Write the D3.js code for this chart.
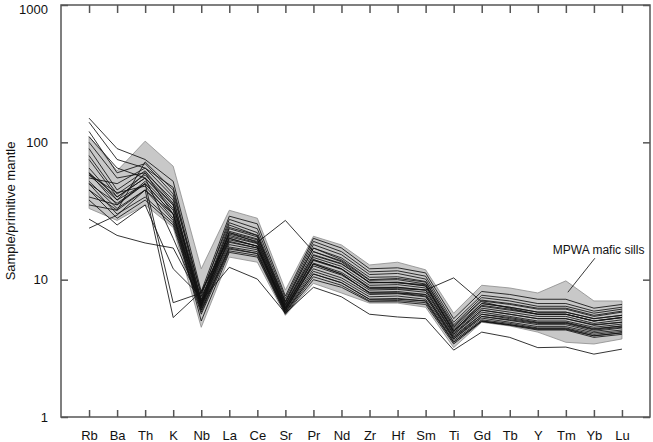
<!DOCTYPE html>
<html>
<head>
<meta charset="utf-8">
<script src="https://cdn.jsdelivr.net/npm/d3@7/dist/d3.min.js"></script>
<style>
  body { margin: 0; background: #fff; }
  svg { display: block; font-family: "Liberation Sans", Arial, sans-serif; }
</style>
</head>
<body>
<script>
// elements in spider-diagram order
var elements = ["Rb","Ba","Th","K","Nb","La","Ce","Sr","Pr","Nd","Zr","Hf","Sm","Ti","Gd","Tb","Y","Tm","Yb","Lu"];

// y ticks
var yTicks = [1, 10, 100, 1000];

// MPWA mafic sills envelope (upper / lower)
var envUpper = [110, 62, 102, 67, 12, 32, 28, 8.4, 20.7, 17.9, 12.8, 13.4, 11.8, 5.7, 9.1, 8.7, 8.0, 9.8, 7.0, 7.0];
var envLower = [33, 27, 35, 24, 4.5, 14.6, 13.4, 5.5, 9.4, 8.0, 6.75, 6.75, 6.3, 3.2, 4.9, 4.6, 4.15, 3.5, 3.4, 3.7];

// individual samples, normalised to primitive mantle
var samples = [
  [150, 90, 75, 52, 8.2, 29, 25.5, 7.6, 20, 17, 12, 12.2, 11.2, 5.2, 8.2, 7.8, 7.2, 7.2, 6.2, 6.6],
  [140, 75, 65, 47, 7.6, 27.5, 23.5, 7.3, 19, 16, 11.4, 11.6, 10.6, 4.9, 7.7, 7.3, 6.7, 6.7, 5.9, 6.3],
  [120, 60, 70, 42, 7.9, 26, 22, 7.0, 18, 15.2, 10.9, 11.1, 10.1, 4.7, 7.4, 7.0, 6.4, 6.4, 5.7, 6.1],
  [100, 55, 60, 38, 7.2, 25, 21, 6.8, 17, 14.4, 10.4, 10.5, 9.7, 4.5, 7.0, 6.6, 6.1, 6.1, 5.4, 5.8],
  [90, 45, 62, 36, 7.0, 23.5, 20.5, 6.6, 16, 13.7, 9.9, 10, 9.3, 4.4, 6.7, 6.3, 5.8, 5.8, 5.2, 5.5],
  [80, 42, 58, 35, 6.8, 22.5, 19.8, 6.5, 15.2, 13.1, 9.5, 9.6, 9.0, 4.3, 6.4, 6.0, 5.6, 5.6, 5.0, 5.3],
  [75, 40, 55, 33, 6.6, 21.5, 19, 6.4, 14.5, 12.5, 9.1, 9.2, 8.7, 4.2, 6.2, 5.8, 5.4, 5.4, 4.8, 5.1],
  [65, 38, 60, 30, 6.5, 20.5, 18.3, 6.3, 13.8, 11.9, 8.7, 8.8, 8.4, 4.1, 6.0, 5.6, 5.2, 5.2, 4.65, 4.9],
  [60, 35, 52, 32, 6.4, 19.5, 17.6, 6.2, 13.2, 11.3, 8.4, 8.5, 8.1, 4.0, 5.8, 5.4, 5.0, 5.0, 4.5, 4.75],
  [58, 43, 48, 28, 6.3, 18.7, 17, 6.1, 12.6, 10.8, 8.1, 8.2, 7.8, 3.9, 5.6, 5.2, 4.85, 4.85, 4.35, 4.6],
  [55, 50, 65, 40, 6.2, 18, 16.5, 6.0, 12, 10.3, 7.8, 7.9, 7.5, 3.8, 5.4, 5.05, 4.7, 4.7, 4.2, 4.45],
  [52, 33, 45, 27, 6.0, 17.3, 16, 5.9, 11.5, 9.9, 7.5, 7.6, 7.2, 3.7, 5.25, 4.9, 4.55, 4.55, 4.1, 4.3],
  [50, 30, 40, 26, 5.8, 16.7, 15.5, 5.8, 11, 9.5, 7.2, 7.3, 7.0, 3.6, 5.1, 4.8, 4.45, 4.45, 4.0, 4.2],
  [45, 28, 38, 25, 5.6, 16.2, 15, 5.7, 10.5, 9.1, 7.0, 7.05, 6.8, 3.5, 5.0, 4.7, 4.35, 4.35, 3.9, 4.1],
  [40, 35, 50, 30, 5.0, 15.8, 14.6, 5.6, 10, 8.8, 6.9, 6.9, 6.6, 3.4, 4.95, 4.65, 4.3, 4.3, 3.8, 4.0],
  [35, 32, 72, 45, 7.0, 24, 21, 6.9, 17, 14, 10, 10.2, 9.6, 4.6, 7.1, 6.7, 6.2, 6.2, 5.5, 5.9],
  [110, 65, 55, 20, 6.7, 22, 19.5, 6.6, 15, 13, 9.6, 9.5, 9.2, 4.2, 6.7, 6.3, 5.8, 5.8, 5.2, 5.5],
  [27.6, 21, 18.5, 17, 7.0, 12.3, 10.1, 5.7, 8.8, 7.5, 5.6, 5.35, 5.2, 3.07, 4.15, 3.8, 3.2, 3.23, 2.87, 3.12],
  [60, 40, 55, 35, 6.8, 22, 18.7, 27, 16, 13.5, 9.5, 9.5, 9.0, 4.2, 6.5, 6.1, 5.6, 5.6, 5.0, 5.3],
  [50, 36, 50, 30, 6.5, 20, 17.5, 6.2, 14, 12, 8.8, 8.8, 8.4, 10.3, 6.9, 6.2, 5.6, 5.6, 5.0, 5.3],
  [45, 32, 45, 5.3, 8.2, 20, 17.5, 6.0, 13, 11, 8.0, 8.0, 7.8, 3.8, 5.6, 5.3, 4.9, 4.9, 4.4, 4.6],
  [58, 38, 50, 6.8, 8.0, 21, 18.5, 6.2, 14, 12, 8.6, 8.6, 8.4, 4.0, 6.0, 5.6, 5.2, 5.2, 4.7, 4.9],
  [38, 25, 35, 12, 7.5, 19, 17, 6.0, 13, 11, 8.0, 8.0, 7.6, 3.7, 5.4, 5.1, 4.8, 4.8, 4.3, 4.5],
  [23.7, 29.5, 45, 30, 6.0, 17, 15.5, 5.8, 11, 9.5, 7.2, 7.2, 7.0, 3.5, 5.0, 4.7, 4.4, 4.4, 3.9, 4.1]
];

var W = 653, H = 442;
var margin = {top: 5, right: 3, bottom: 25, left: 61},
    width = W - margin.left - margin.right,
    height = H - margin.top - margin.bottom;

var x = d3.scalePoint().domain(elements).range([0, width]).padding(1);
var y = d3.scaleLog().domain([1, 1000]).range([height, 0]);

var svg = d3.select("body").append("svg")
    .attr("width", W)
    .attr("height", H)
  .append("g")
    .attr("transform", "translate(" + margin.left + "," + margin.top + ")");

// envelope
var area = d3.area()
    .x(function(d, i) { return x(elements[i]); })
    .y0(function(d, i) { return y(envLower[i]); })
    .y1(function(d, i) { return y(envUpper[i]); });

svg.append("path")
    .datum(envUpper)
    .attr("d", area)
    .style("fill", "#c8c8c8")
    .style("stroke", "#8c8c8c")
    .style("stroke-width", 0.8);

// sample lines
var line = d3.line()
    .x(function(d, i) { return x(elements[i]); })
    .y(function(d) { return y(d); });

svg.selectAll(".sample")
    .data(samples)
  .enter().append("path")
    .attr("class", "sample")
    .attr("d", line)
    .style("fill", "none")
    .style("stroke", "#111")
    .style("stroke-width", 0.85);

// axes, ticks pointing inward
var axisColor = "#555";

var gLeft = svg.append("g")
    .call(d3.axisLeft(y).tickValues(yTicks).tickFormat(d3.format("d")).tickSize(-7).tickPadding(13));
var gRight = svg.append("g")
    .attr("transform", "translate(" + width + ",0)")
    .call(d3.axisRight(y).tickValues(yTicks).tickFormat("").tickSize(-7));
var gBottom = svg.append("g")
    .attr("transform", "translate(0," + height + ")")
    .call(d3.axisBottom(x).tickSize(-7).tickPadding(14));
var gTop = svg.append("g")
    .call(d3.axisTop(x).tickFormat("").tickSize(-8));

[gLeft, gRight, gBottom, gTop].forEach(function(g) {
  g.select(".domain").remove();
  g.selectAll("line").style("stroke", axisColor).style("stroke-width", 1.5);
  g.selectAll("text").style("font-family", "'Liberation Sans', Arial, sans-serif")
    .style("font-size", "13px").style("fill", "#111");
});

// keep the top label inside the page
gLeft.selectAll(".tick text").filter(function(d) { return d === 1000; }).attr("dy", "0.62em");

svg.append("rect")
    .attr("width", width)
    .attr("height", height)
    .style("fill", "none")
    .style("stroke", axisColor)
    .style("stroke-width", 1.5);

// y label
svg.append("text")
    .attr("transform", "rotate(-90)")
    .attr("x", -height / 2)
    .attr("y", -46)
    .style("text-anchor", "middle")
    .style("font-size", "13px")
    .style("fill", "#111")
    .text("Sample/primitive mantle");

// annotation
var ax = x("Tm"), ay = y(8.1);
svg.append("line")
    .attr("x1", ax + 29).attr("y1", ay - 34)
    .attr("x2", ax + 2).attr("y2", ay)
    .style("stroke", "#222")
    .style("stroke-width", 0.9);
svg.append("text")
    .attr("x", ax - 13)
    .attr("y", ay - 38)
    .style("font-size", "12px")
    .style("fill", "#111")
    .text("MPWA mafic sills");
</script>
</body>
</html>
